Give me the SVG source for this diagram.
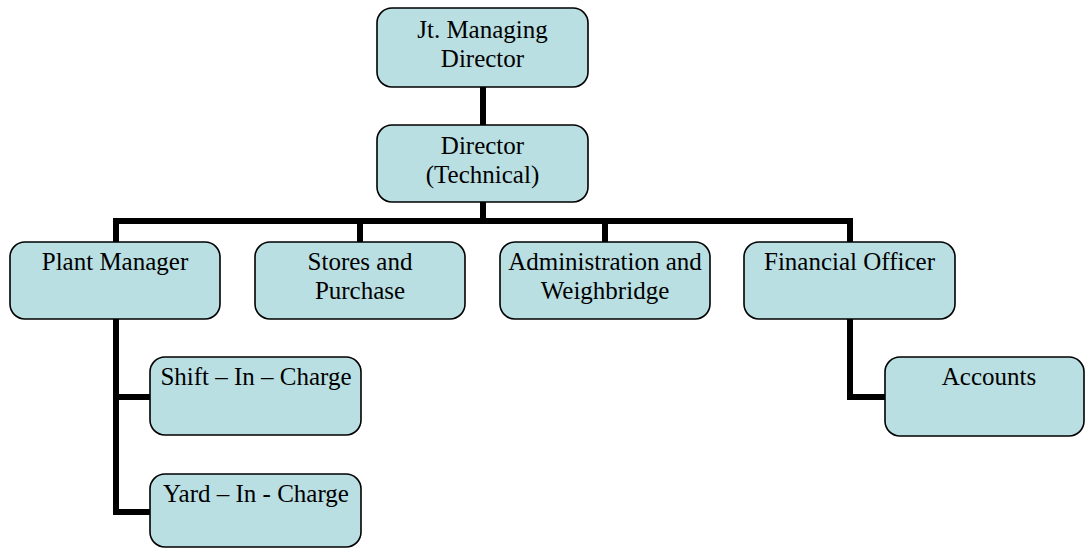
<svg xmlns="http://www.w3.org/2000/svg" width="1085" height="548" viewBox="0 0 1085 548">
<style>
.box{fill:#b9dfe2;stroke:#000;stroke-width:1.6}
.t{font-family:"Liberation Serif","Times New Roman",serif;font-size:25px;fill:#000;text-anchor:middle}
.c{fill:none;stroke:#000;stroke-width:6;stroke-linejoin:miter}
</style>
<rect width="1085" height="548" fill="#fff"/>
<g id="connectors">
<path class="c" d="M483 87V125"/>
<path class="c" d="M483 202V221"/>
<path class="c" d="M116 242V221H850V242"/>
<path class="c" d="M360 221V242"/>
<path class="c" d="M605 221V242"/>
<path class="c" d="M116 319V512H151"/>
<path class="c" d="M116 397H151"/>
<path class="c" d="M850 319V397H886"/>
</g>
<g id="jt-managing-director">
<rect class="box" x="377" y="8" width="211" height="79" rx="15"/>
<text class="t" x="482.5" y="38">Jt. Managing</text>
<text class="t" x="482.5" y="67">Director</text>
</g>
<g id="director-technical">
<rect class="box" x="377" y="125" width="211" height="77" rx="15"/>
<text class="t" x="482.5" y="154">Director</text>
<text class="t" x="482.5" y="183">(Technical)</text>
</g>
<g id="plant-manager">
<rect class="box" x="10" y="242" width="210" height="77" rx="15"/>
<text class="t" x="115" y="270">Plant Manager</text>
</g>
<g id="stores-and-purchase">
<rect class="box" x="255" y="242" width="210" height="77" rx="15"/>
<text class="t" x="360" y="270">Stores and</text>
<text class="t" x="360" y="299">Purchase</text>
</g>
<g id="administration-and-weighbridge">
<rect class="box" x="500" y="242" width="210" height="77" rx="15"/>
<text class="t" x="605" y="270">Administration and</text>
<text class="t" x="605" y="299">Weighbridge</text>
</g>
<g id="financial-officer">
<rect class="box" x="744" y="242" width="211" height="77" rx="15"/>
<text class="t" x="849.5" y="270">Financial Officer</text>
</g>
<g id="shift-in-charge">
<rect class="box" x="150" y="357" width="211" height="78" rx="15"/>
<text class="t" x="256" y="385">Shift – In – Charge</text>
</g>
<g id="yard-in-charge">
<rect class="box" x="150" y="474" width="211" height="73" rx="15"/>
<text class="t" x="256" y="502">Yard – In - Charge</text>
</g>
<g id="accounts">
<rect class="box" x="885" y="357" width="199" height="79" rx="15"/>
<text class="t" x="989" y="385">Accounts</text>
</g>
</svg>
